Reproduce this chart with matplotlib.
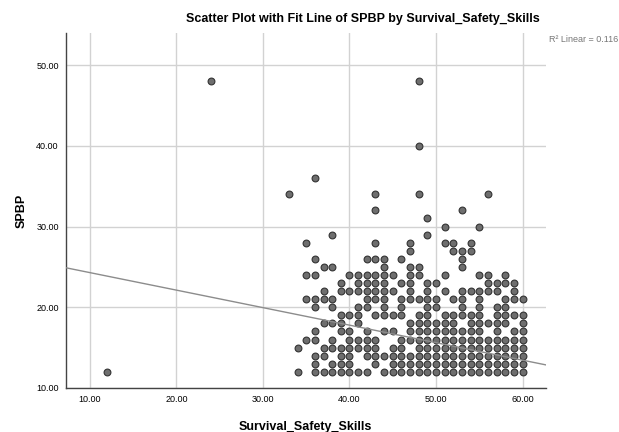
# Scatter plot with linear fit line: SPBP by Survival_Safety_Skills
import numpy as np
import matplotlib.pyplot as plt

# SPBP levels and the Survival_Safety_Skills scores seen at each level
spbp_levels = [12, 13, 14, 15, 16, 17, 18, 19, 20, 21, 22, 23, 24,
               25, 26, 27, 28, 29, 30, 31, 32, 34, 36, 40, 48]
skills_at_level = [
    [12, 34, 36, 37, 38, 39, 40, 41, 42] + list(range(44, 61)),       # 12
    [36, 38, 39, 40, 43] + list(range(45, 61)),                        # 13
    [36, 37, 39, 40] + list(range(42, 61)),                            # 14
    [34, 37, 38, 39, 40, 41, 42, 43, 45, 46] + list(range(48, 61)),    # 15
    [35, 36, 38, 40, 41, 42, 43] + list(range(46, 61)),                # 16
    [36, 39, 40, 42, 44, 45, 47, 48, 49, 50, 51, 52, 53, 54, 55, 57, 59, 60],
    [37, 38, 39, 41, 47, 48, 49, 50, 51, 52, 54, 55, 56, 57, 58, 60],
    [39, 40, 41, 43, 44, 45, 46, 48, 49, 51, 52, 53, 54, 55, 57, 58, 59, 60],
    [36, 38, 41, 42, 44, 46, 49, 50, 53, 55, 57, 58],
    [35, 36, 37, 38, 42, 43, 44, 46, 47, 48, 49, 50, 52, 53, 55, 58, 59, 60],
    [37, 39, 40, 41, 42, 43, 44, 45, 47, 49, 51, 53, 54, 55, 56, 57, 59],
    [39, 41, 42, 43, 44, 46, 47, 49, 50, 56, 57, 58, 59],
    [35, 36, 40, 41, 42, 43, 44, 45, 47, 48, 51, 55, 56, 58],
    [37, 38, 44, 47, 48, 53],
    [36, 42, 43, 44, 46, 53],
    [47, 52, 53, 54],
    [35, 43, 47, 51, 52, 54],
    [38, 49],
    [51, 55],
    [49],
    [43, 53],
    [33, 43, 48, 56],
    [36],
    [48],
    [24, 48],
]

# fit line (R2 linear = 0.116)
fit_intercept = 26.46
fit_slope = -0.217
r2_text = "R\u00b2 Linear = 0.116"

x_ticks = [10, 20, 30, 40, 50, 60]
y_ticks = [10, 20, 30, 40, 50]

skills = []
spbp = []
for level, xs in zip(spbp_levels, skills_at_level):
    skills.extend(xs)
    spbp.extend([level] * len(xs))
skills = np.array(skills)
spbp = np.array(spbp)

plt.rcParams['font.family'] = ['Liberation Sans', 'DejaVu Sans']

fig = plt.figure(figsize=(6.19, 4.32), dpi=100)
ax = fig.add_axes([0.106, 0.102, 0.776, 0.822])

ax.scatter(skills, spbp, s=24, color='#6e6e6e', edgecolors='#333333',
           linewidths=0.8, zorder=3)

xlim = (7.2, 62.7)
line_x = np.array(xlim)
ax.plot(line_x, fit_intercept + fit_slope * line_x, color='#8c8c8c',
        linewidth=1.0, zorder=4)

ax.set_xlim(xlim)
ax.set_ylim(10, 54)
ax.set_xticks(x_ticks)
ax.set_yticks(y_ticks)
ax.set_xticklabels([f"{t:.2f}" for t in x_ticks], fontsize=6.5)
ax.set_yticklabels([f"{t:.2f}" for t in y_ticks], fontsize=6.5)
ax.tick_params(length=0, pad=5)
ax.grid(True, color='#d2d2d2', linewidth=1.0, zorder=0)
ax.set_axisbelow(True)
for side in ['top', 'right']:
    ax.spines[side].set_visible(False)
for side in ['left', 'bottom']:
    ax.spines[side].set_color('#444444')
    ax.spines[side].set_linewidth(1.0)

ax.set_xlabel("Survival_Safety_Skills", fontsize=9, fontweight='bold', labelpad=12)
ax.set_ylabel("SPBP", fontsize=9, fontweight='bold', labelpad=6)

fig.text(0.587, 0.955, "Scatter Plot with Fit Line of SPBP by Survival_Safety_Skills",
         ha='center', va='center', fontsize=9, fontweight='bold')
fig.text(0.887, 0.908, r2_text, ha='left', va='center', fontsize=6.5,
         color='#777777')

fig.savefig("out.png", dpi=100)
